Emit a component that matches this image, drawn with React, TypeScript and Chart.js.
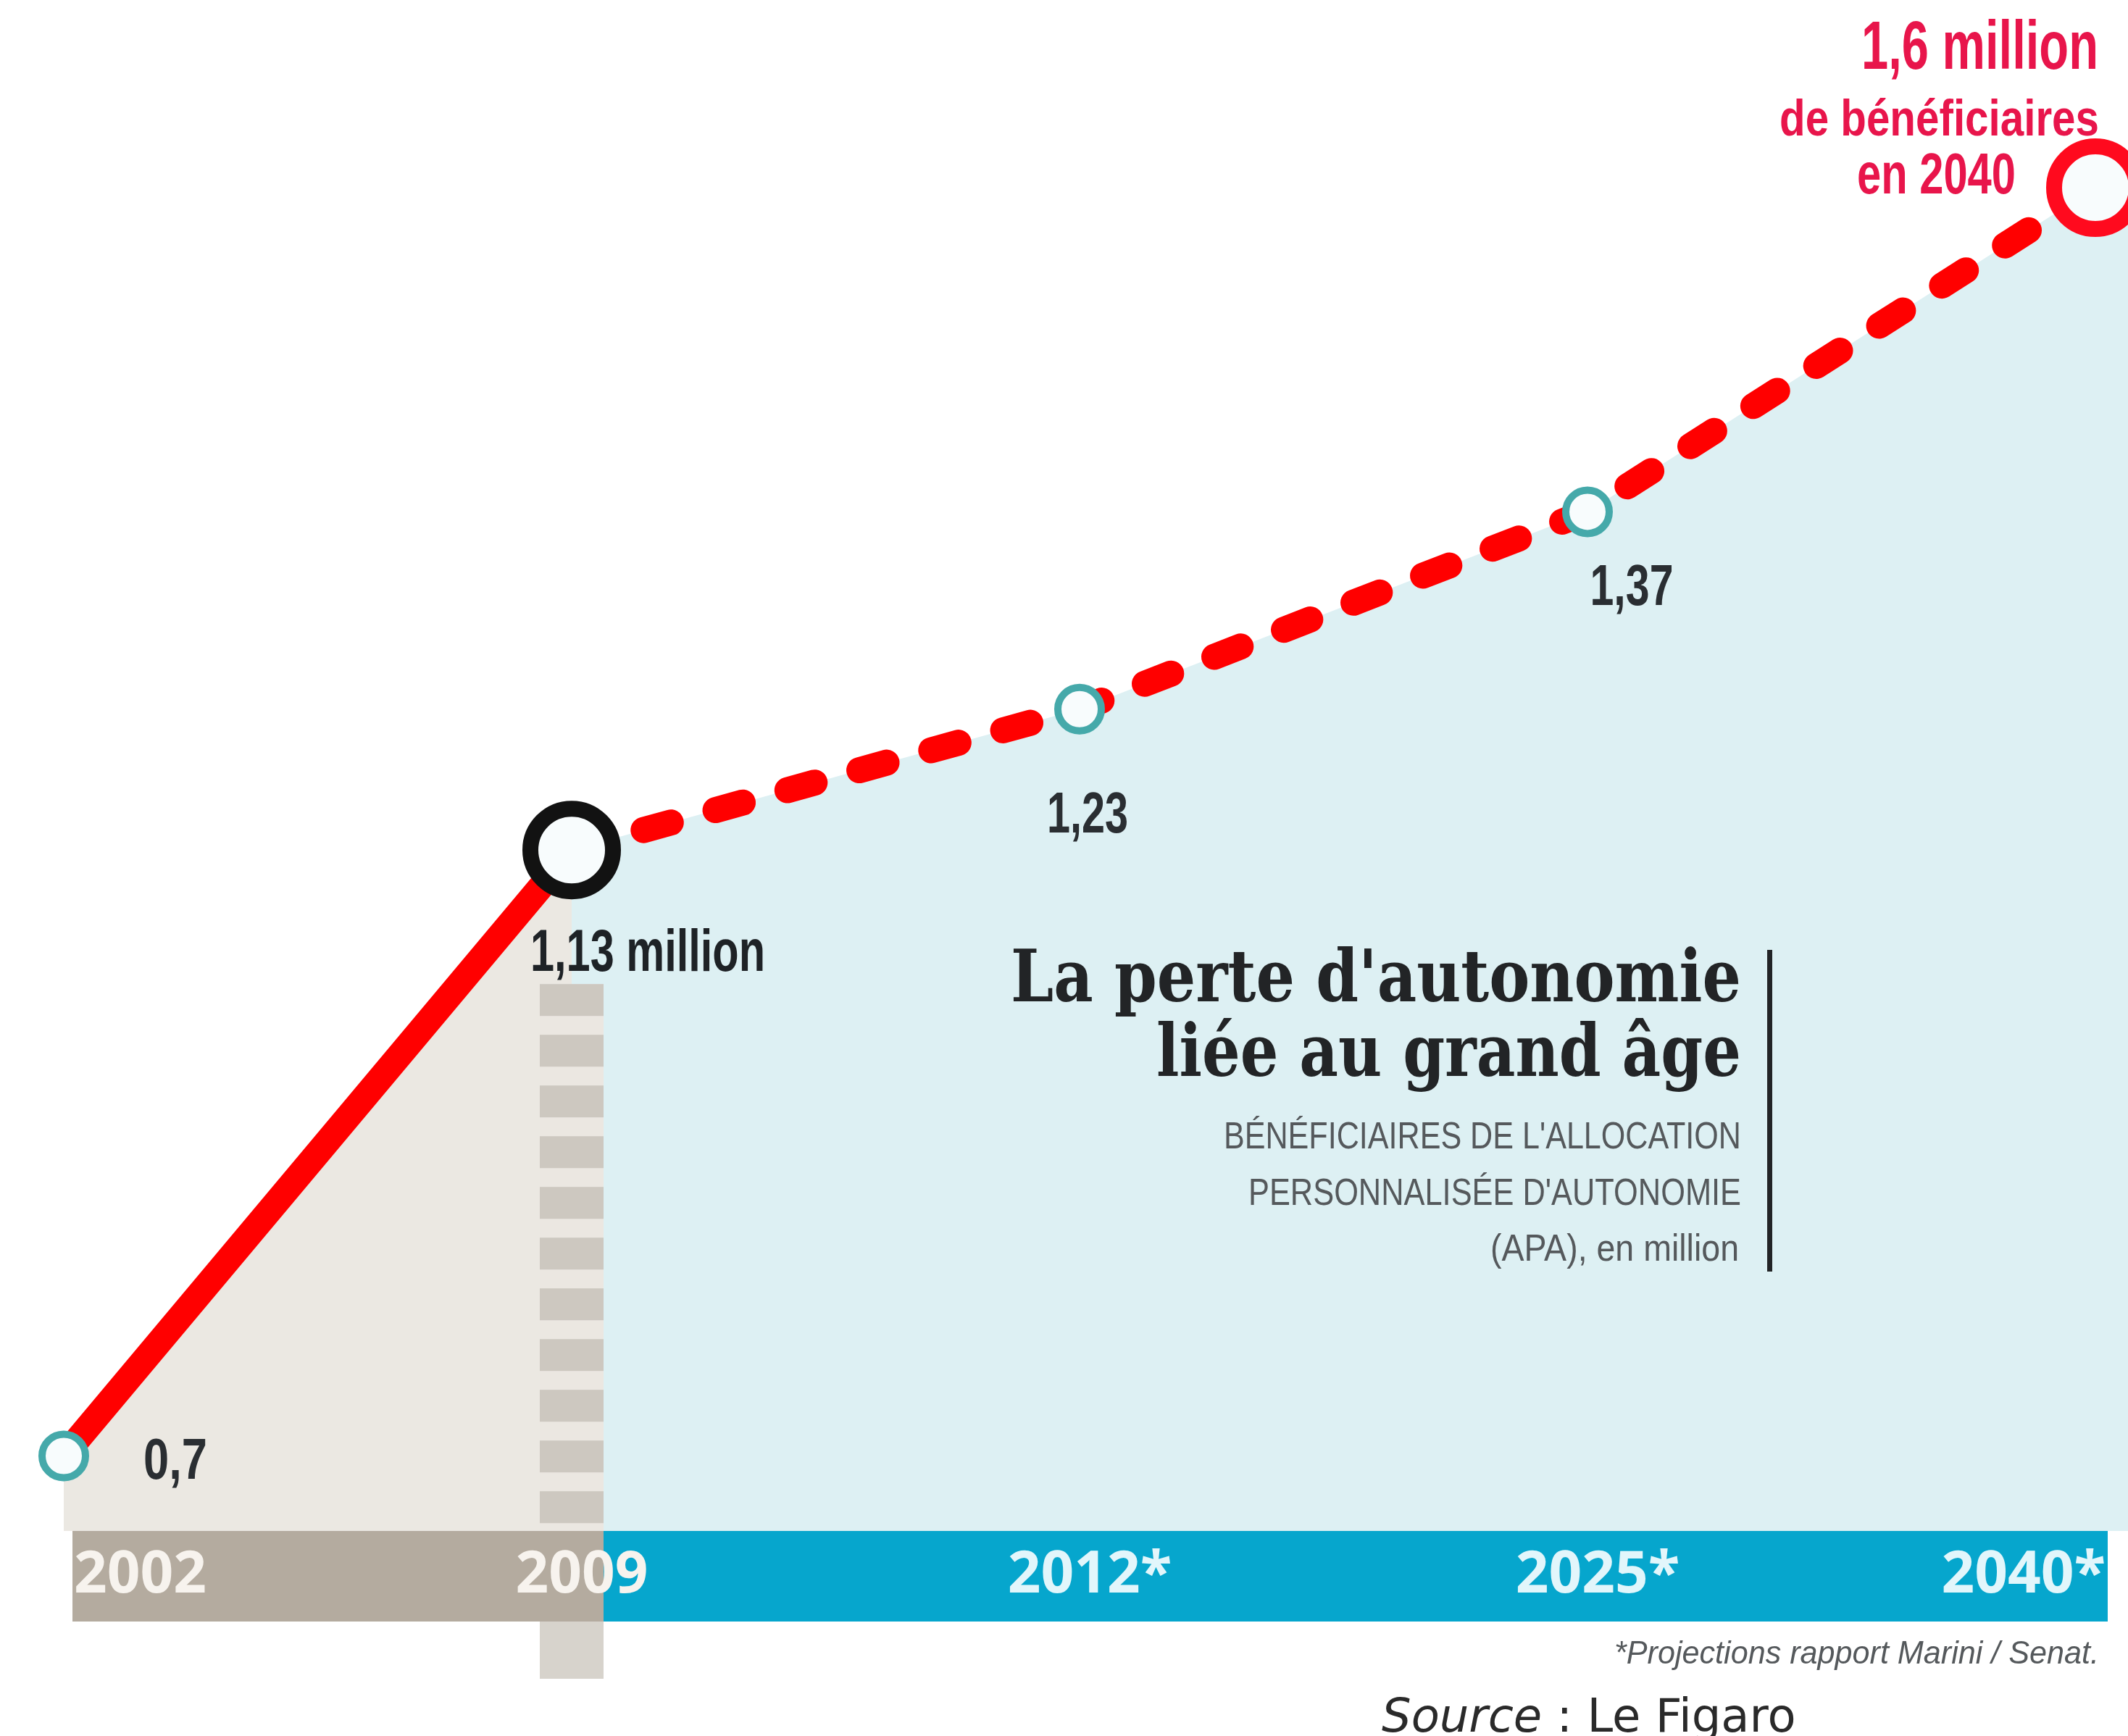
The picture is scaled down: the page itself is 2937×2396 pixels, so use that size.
import React, { useEffect, useRef } from 'react';
import { Chart, registerables } from 'chart.js';

Chart.register(...registerables);

// ---- data ----
const years = ['2002', '2009', '2012*', '2025*', '2040*'];
const beneficiaries = [0.7, 1.13, 1.23, 1.37, 1.6];
const pointLabels = ['0,7', '1,13 million', '1,23', '1,37', ''];
const endLabelLines = ['1,6 million', 'de bénéficiaires', 'en 2040'];
const titleLines = ["La perte d'autonomie", 'liée au grand âge'];
const subtitleLines = ["BÉNÉFICIAIRES DE L'ALLOCATION", "PERSONNALISÉE D'AUTONOMIE", '(APA), en million'];
const footnote = '*Projections rapport Marini / Senat.';
const sourceLabel = 'Source';
const sourceText = ' : Le Figaro';
const lastObservedIndex = 1;

// ---- styles ----
const W = 2937;
const H = 2396;
const BEIGE = '#ebe8e2';
const BLUE = '#ddf0f3';
const BAND_GREY = '#b4ab9f';
const BAND_CYAN = '#06a6cd';
const RED = '#ff0000';
const RED_TEXT = '#e8154b';
const TEAL = '#45a9aa';

type Align = 'left' | 'right' | 'center';

function drawFit(
  ctx: CanvasRenderingContext2D,
  text: string,
  x: number,
  y: number,
  font: string,
  color: string,
  align: Align,
  width?: number,
  sx?: number
) {
  ctx.save();
  ctx.font = font;
  ctx.fillStyle = color;
  ctx.textBaseline = 'alphabetic';
  ctx.textAlign = 'left';
  const w = ctx.measureText(text).width;
  const s = width ? width / w : sx ?? 1;
  const tw = w * s;
  const left = align === 'left' ? x : align === 'right' ? x - tw : x - tw / 2;
  ctx.translate(left, y);
  ctx.scale(s, 1);
  ctx.fillText(text, 0, 0);
  ctx.restore();
}

const decorPlugin = {
  id: 'decor',
  beforeDraw(chart: any) {
    const { ctx, chartArea } = chart;
    const xs = chart.scales.x;
    const ys = chart.scales.y;
    ctx.save();
    // extend projection fill to the right edge
    const lastY = ys.getPixelForValue(beneficiaries[beneficiaries.length - 1]);
    ctx.fillStyle = BLUE;
    ctx.fillRect(chartArea.right, lastY, W - chartArea.right, chartArea.bottom - lastY);

    const splitX = xs.getPixelForValue(lastObservedIndex);
    const bandTop = xs.top;
    const bandBottom = xs.bottom;
    // bands
    ctx.fillStyle = BAND_GREY;
    ctx.fillRect(chartArea.left + 12, bandTop, splitX + 44 - (chartArea.left + 12), bandBottom - bandTop);
    ctx.fillStyle = BAND_CYAN;
    ctx.fillRect(splitX + 44, bandTop, chartArea.right + 17 - (splitX + 44), bandBottom - bandTop);

    // striped separator
    const obsY = ys.getPixelForValue(beneficiaries[lastObservedIndex]);
    const stripTop = obsY + 185;
    ctx.fillStyle = '#ebe7e1';
    ctx.fillRect(splitX - 44, stripTop, 88, chartArea.bottom - stripTop);
    ctx.fillStyle = '#cdc8c0';
    for (let yy = stripTop; yy < chartArea.bottom; yy += 70) {
      ctx.fillRect(splitX - 44, yy, 88, Math.min(44, chartArea.bottom - yy));
    }
    ctx.fillStyle = '#d7d3cc';
    ctx.fillRect(splitX - 44, bandBottom, 88, 79);
    ctx.restore();
  },
  afterDatasetsDraw(chart: any) {
    const { ctx } = chart;
    const xs = chart.scales.x;
    const ys = chart.scales.y;
    const px = (i: number) => xs.getPixelForValue(i);
    const py = (i: number) => ys.getPixelForValue(beneficiaries[i]);
    const dark = '#2a2e32';
    const lab = 'bold 80px "Liberation Sans", Arial, sans-serif';
    const bold = 'bold 82px "Liberation Sans", Arial, sans-serif';

    // value labels
    drawFit(ctx, pointLabels[0], px(0) + 110, py(0) + 31, lab, dark, 'left', 88);
    drawFit(ctx, pointLabels[1], px(1) - 57, py(1) + 167, bold, '#1e2226', 'left', 324);
    drawFit(ctx, pointLabels[2], px(2) + 11, py(2) + 170, lab, dark, 'center', 112);
    drawFit(ctx, pointLabels[3], px(3) + 61, py(3) + 129, lab, dark, 'center', 115);

    // end label
    const lx = px(4);
    const ly = py(4);
    drawFit(ctx, endLabelLines[0], lx + 4, ly - 164, 'bold 94px "Liberation Sans", Arial, sans-serif', RED_TEXT, 'right', 327);
    drawFit(ctx, endLabelLines[1], lx + 5, ly - 72, 'bold 70px "Liberation Sans", Arial, sans-serif', RED_TEXT, 'right', 441);
    drawFit(ctx, endLabelLines[2], lx - 110, ly + 8, 'bold 80px "Liberation Sans", Arial, sans-serif', RED_TEXT, 'right', 219);
  },
  afterDraw(chart: any) {
    const { ctx } = chart;
    // title block
    const tFont = 'bold 100px "DejaVu Serif", serif';
    drawFit(ctx, titleLines[0], 2403, 1382, tFont, '#222426', 'right', 1008);
    drawFit(ctx, titleLines[1], 2403, 1485, tFont, '#222426', 'right', 807);
    const sFont = '52px "Liberation Sans", Arial, sans-serif';
    drawFit(ctx, subtitleLines[0], 2403, 1585, sFont, '#55595c', 'right', 714);
    drawFit(ctx, subtitleLines[1], 2403, 1663, sFont, '#55595c', 'right', 680);
    drawFit(ctx, subtitleLines[2], 2400, 1740, sFont, '#55595c', 'right', 343);
    ctx.save();
    ctx.fillStyle = '#222426';
    ctx.fillRect(2439, 1311, 7, 444);
    ctx.restore();

    // footnote & source
    drawFit(ctx, footnote, 2897, 2296, 'italic 44px "Liberation Sans", Arial, sans-serif', '#55595c', 'right', 669);
    ctx.save();
    ctx.font = 'oblique 64px "DejaVu Sans", sans-serif';
    ctx.fillStyle = '#2a2a2a';
    ctx.textBaseline = 'alphabetic';
    ctx.fillText(sourceLabel, 1907, 2390);
    const w = ctx.measureText(sourceLabel).width;
    ctx.font = '64px "DejaVu Sans", sans-serif';
    ctx.fillText(sourceText, 1907 + w, 2390);
    ctx.restore();
  },
};

export default function App() {
  const ref = useRef<HTMLCanvasElement | null>(null);

  useEffect(() => {
    document.body.style.margin = '0';
    document.body.style.overflow = 'hidden';
    const canvas = ref.current;
    if (!canvas) return;
    const isBig = (i: number) => i === lastObservedIndex || i === beneficiaries.length - 1;
    const chart = new Chart(canvas, {
      type: 'line',
      data: {
        labels: years,
        datasets: [
          {
            data: beneficiaries,
            borderColor: RED,
            borderWidth: 36,
            borderCapStyle: 'round',
            borderJoinStyle: 'round',
            backgroundColor: BLUE,
            fill: 'start',
            tension: 0,
            clip: false,
            segment: {
              borderDash: (c: any) => (c.p0DataIndex >= lastObservedIndex ? [39, 64] : undefined),
              backgroundColor: (c: any) => (c.p0DataIndex < lastObservedIndex ? BEIGE : BLUE),
            },
            pointRadius: (c: any) => (isBig(c.dataIndex) ? 57 : 30),
            pointBorderWidth: (c: any) => (isBig(c.dataIndex) ? 22 : 10),
            pointBorderColor: (c: any) =>
              c.dataIndex === lastObservedIndex ? '#121212' : c.dataIndex === beneficiaries.length - 1 ? '#ff0a1e' : TEAL,
            pointBackgroundColor: '#f8fcfd',
          } as any,
        ],
      },
      options: {
        responsive: false,
        animation: false,
        events: [],
        layout: { autoPadding: false, padding: { left: 88, right: 45, top: 0, bottom: 158 } },
        plugins: {
          legend: { display: false },
          tooltip: { enabled: false },
          filler: { drawTime: 'beforeDraw' },
        } as any,
        scales: {
          x: {
            type: 'category',
            offset: false,
            grid: { display: false, drawTicks: false },
            border: { display: false },
            ticks: {
              align: 'inner',
              labelOffset: 14,
              padding: 14.5,
              autoSkip: false,
              maxRotation: 0,
              font: { family: '"Open Sans", sans-serif', size: 80, weight: 'bold' },
              color: (c: any) => (c.index <= lastObservedIndex ? '#f7f3ee' : '#e2f6fb'),
            },
          },
          y: { display: false, min: 0.6468, max: 1.7332 },
        },
      } as any,
      plugins: [decorPlugin],
    });
    return () => chart.destroy();
  }, []);

  return (
    <div style={{ position: 'fixed', left: 0, top: 0, width: W, height: H, background: '#ffffff' }}>
      <canvas ref={ref} width={W} height={H} style={{ display: 'block' }} />
    </div>
  );
}
